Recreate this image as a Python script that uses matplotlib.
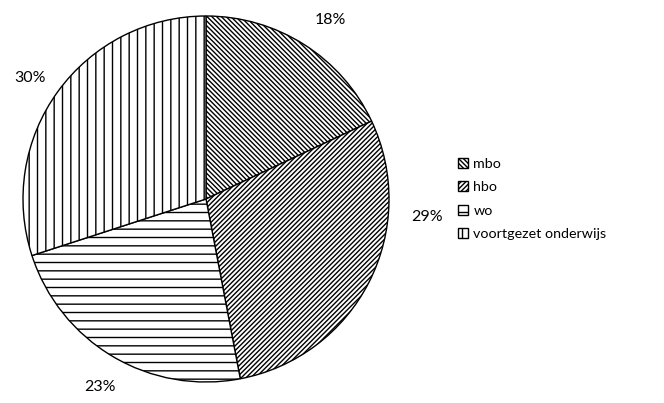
import matplotlib.pyplot as plt

plt.rcParams['font.family'] = ['Lato', 'DejaVu Sans']
plt.rcParams['hatch.linewidth'] = 1.0

# gegevens
categorieen = ['mbo', 'hbo', 'wo', 'voortgezet onderwijs']
percentages = [18, 29, 23, 30]
arceringen = ['\\' * 7, '/' * 7, '--', '||']
# labelposities (best fit, in straal-eenheden)
label_x = [0.68, 1.21, -0.58, -0.96]
label_y = [0.98, -0.10, -1.03, 0.66]

fig = plt.figure(figsize=(6.64, 4.03), dpi=100)
ax = fig.add_axes([22 / 664, 21 / 403, 368 / 664, 366 / 403])

wedges, _ = ax.pie(percentages, startangle=90, counterclock=False,
                   colors=['white'] * 4,
                   wedgeprops=dict(edgecolor='black', linewidth=1.0))
for w, h in zip(wedges, arceringen):
    w.set_hatch(h)

for x, y, p in zip(label_x, label_y, percentages):
    ax.text(x, y, f'{p}%', ha='center', va='center', fontsize=11.5, clip_on=False)

ax.set_xlim(-1, 1)
ax.set_ylim(-1, 1)
ax.axis('off')

fig.legend(wedges, categorieen, loc='center left',
           bbox_to_anchor=(452 / 664, 1 - 199 / 403), frameon=False,
           fontsize=10.3, handlelength=0.7, handleheight=0.7,
           handletextpad=0.4, labelspacing=0.8, borderaxespad=0)

fig.savefig('out.png', dpi=100)
